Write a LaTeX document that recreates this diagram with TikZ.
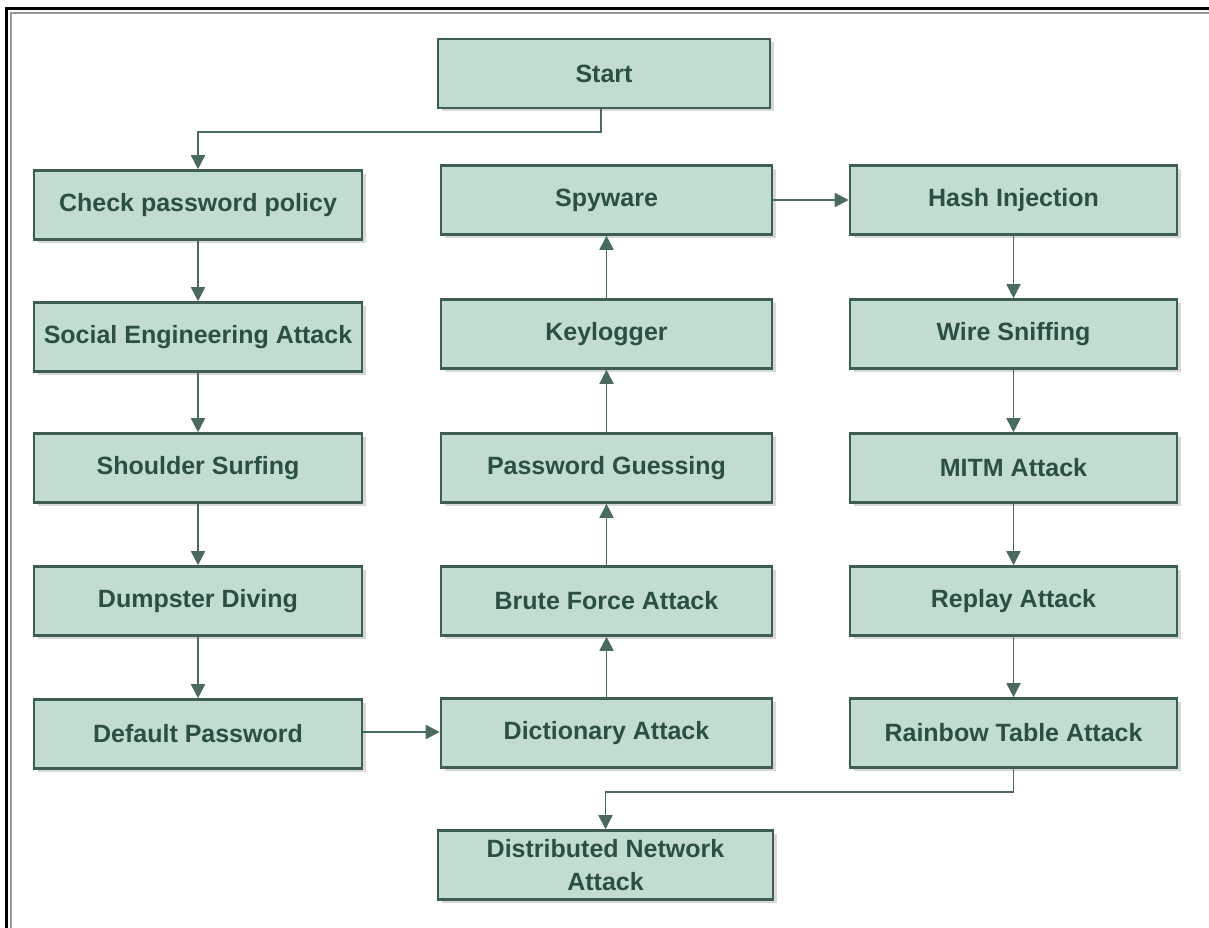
\documentclass[tikz,border=0pt]{standalone}
\usepackage{fontspec}
\setmainfont{Liberation Sans}
\usetikzlibrary{arrows.meta,shadows}
\definecolor{boxfill}{HTML}{C2DDD0}
\definecolor{boxline}{HTML}{3D5E51}
\definecolor{txt}{HTML}{2B5043}
\definecolor{arr}{HTML}{4A6A5E}
\tikzset{
  box/.style={rectangle, draw=boxline, line width=2.6pt, fill=boxfill,
    minimum height=69pt, inner sep=0pt, text=txt, align=center,
    font=\bfseries\fontsize{25}{33}\selectfont,
    drop shadow={opacity=0.3, shadow xshift=3.5pt, shadow yshift=-3.5pt}},
  c1/.style={box, minimum width=328pt},
  c2/.style={box, minimum width=331pt},
  c3/.style={box, minimum width=327pt},
  conn/.style={draw=arr, line width=1.8pt, -{Triangle[length=14pt,width=14pt]}}
}
\begin{document}
\begin{tikzpicture}[x=1pt,y=-1pt]
\useasboundingbox (0,0) rectangle (1209,928);
\fill[white] (0,0) rectangle (1209,928);
% frame
\draw[black, line width=3pt] (6,9) rectangle (1220,940);
\draw[gray!80, line width=2pt] (10.5,13.5) rectangle (1216,936);

\node[box, minimum width=332pt] (start) at (604,73.5) {Start};

\node[c1] (check) at (198,205) {Check password policy};
\node[c1] (social) at (198,337) {Social Engineering Attack};
\node[c1] (shoulder) at (198,468) {Shoulder Surfing};
\node[c1] (dumpster) at (198,601) {Dumpster Diving};
\node[c1] (default) at (198,734) {Default Password};

\node[c2] (spyware) at (606.5,200) {Spyware};
\node[c2] (keylogger) at (606.5,334) {Keylogger};
\node[c2] (guess) at (606.5,468) {Password Guessing};
\node[c2] (brute) at (606.5,601) {Brute Force Attack};
\node[c2] (dict) at (606.5,733) {Dictionary Attack};

\node[c3] (hash) at (1013.5,200) {Hash Injection};
\node[c3] (wire) at (1013.5,334) {Wire Sniffing};
\node[c3] (mitm) at (1013.5,468) {MITM Attack};
\node[c3] (replay) at (1013.5,601) {Replay Attack};
\node[c3] (rainbow) at (1013.5,733) {Rainbow Table Attack};

\node[box, minimum width=335pt] (dist) at (605.5,865) {Distributed Network\\Attack};

% connectors
\draw[conn] (start.south -| 601,0) |- (300,132) -| (check.north);
\draw[conn] (check) -- (social);
\draw[conn] (social) -- (shoulder);
\draw[conn] (shoulder) -- (dumpster);
\draw[conn] (dumpster) -- (default);
\draw[conn] (default.east |- 0,732) -- (dict.west |- 0,732);
\draw[conn] (dict) -- (brute);
\draw[conn] (brute) -- (guess);
\draw[conn] (guess) -- (keylogger);
\draw[conn] (keylogger) -- (spyware);
\draw[conn] (spyware) -- (hash);
\draw[conn] (hash) -- (wire);
\draw[conn] (wire) -- (mitm);
\draw[conn] (mitm) -- (replay);
\draw[conn] (replay) -- (rainbow);
\draw[conn] (rainbow.south) |- (800,792) -| (dist.north);
\end{tikzpicture}
\end{document}
